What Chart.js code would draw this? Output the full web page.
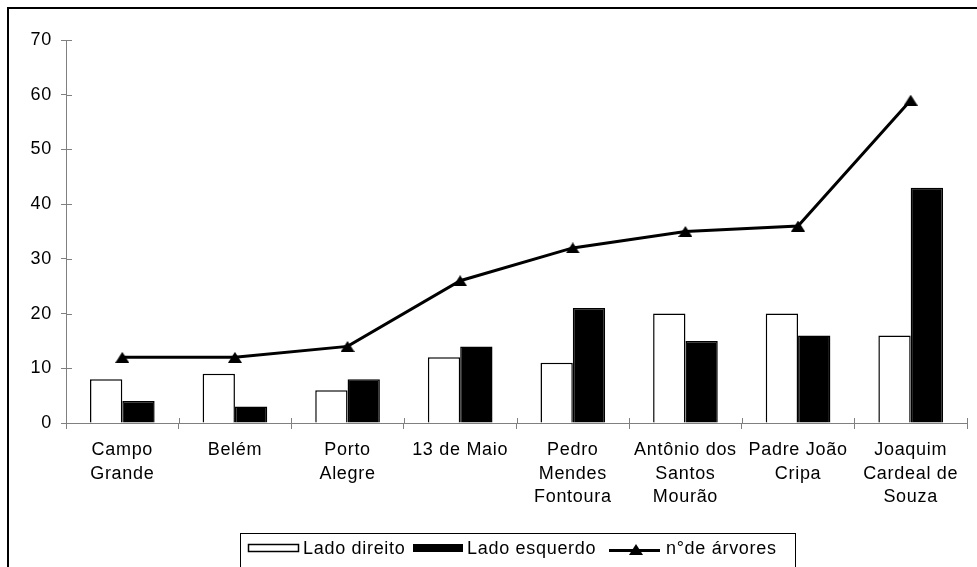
<!DOCTYPE html>
<html>
<head>
<meta charset="utf-8">
<script src="https://cdn.jsdelivr.net/npm/chart.js@4/dist/chart.umd.min.js"></script>
<style>
  html, body { margin: 0; padding: 0; background: #fff; }
  #wrap { width: 977px; height: 567px; position: relative; }
</style>
</head>
<body>
<div id="wrap"><canvas id="c" width="977" height="567"></canvas></div>
<script>
const categories = [
  ["Campo", "Grande"],
  ["Belém"],
  ["Porto", "Alegre"],
  ["13 de Maio"],
  ["Pedro", "Mendes", "Fontoura"],
  ["Antônio dos", "Santos", "Mourão"],
  ["Padre João", "Cripa"],
  ["Joaquim", "Cardeal de", "Souza"]
];
const ladoDireito  = [8, 9, 6, 12, 11, 20, 20, 16];
const ladoEsquerdo = [4, 3, 8, 14, 21, 15, 16, 43];
const nArvores     = [12, 12, 14, 26, 32, 35, 36, 59];
const seriesNames  = ["Lado direito", "Lado esquerdo", "n°de árvores"];
const yTicks       = [0, 10, 20, 30, 40, 50, 60, 70];

const FONT = "'Liberation Sans', Arial, sans-serif";
const AXIS = '#808080';
const SPACING = '0.7px';

// triangle marker image (centered)
const tri = document.createElement('canvas');
tri.width = 14; tri.height = 11;
(function(){
  const t = tri.getContext('2d');
  t.fillStyle = '#000';
  t.beginPath();
  t.moveTo(7, 0); t.lineTo(14, 11); t.lineTo(0, 11); t.closePath();
  t.fill();
})();

const framePlugin = {
  id: 'frame',
  beforeUpdate(chart) { chart.ctx.letterSpacing = SPACING; },
  beforeDraw(chart) {
    const ctx = chart.ctx;
    ctx.letterSpacing = SPACING;
    ctx.save();
    ctx.fillStyle = '#fff';
    ctx.fillRect(0, 0, chart.width, chart.height);
    ctx.strokeStyle = '#000';
    ctx.lineWidth = 2;
    ctx.strokeRect(8, 8, chart.width + 20, chart.height + 20);
    ctx.restore();
  },
  afterDraw(chart) {
    const ctx = chart.ctx;
    const xs = chart.scales.x, ys = chart.scales.y;
    ctx.save();
    ctx.strokeStyle = AXIS;
    ctx.lineWidth = 1;
    // inner halves of cross tick marks
    ctx.beginPath();
    for (let i = 0; i <= categories.length; i++) {
      const px = Math.round(xs.getPixelForValue(i - 0.5)) + 0.5;
      ctx.moveTo(px, ys.bottom);
      ctx.lineTo(px, ys.bottom - 5);
    }
    yTicks.forEach(v => {
      const py = Math.round(ys.getPixelForValue(v)) + 0.5;
      ctx.moveTo(xs.left, py);
      ctx.lineTo(xs.left + 6, py);
    });
    ctx.stroke();

    // legend
    const ds = chart.data.datasets;
    const dR = ds.find(d => d.label === seriesNames[0]);
    const dL = ds.find(d => d.label === seriesNames[1]);
    const dN = ds.find(d => d.label === seriesNames[2]);
    ctx.strokeStyle = '#000';
    ctx.lineWidth = 1;
    ctx.strokeRect(240.5, 533.5, 555, 60);
    ctx.font = '18px ' + FONT;
    ctx.letterSpacing = SPACING;
    ctx.textBaseline = 'middle';
    ctx.textAlign = 'left';
    // item 1
    ctx.fillStyle = dR.backgroundColor;
    ctx.fillRect(248, 544, 50, 7);
    ctx.lineWidth = 1.5;
    ctx.strokeStyle = dR.borderColor;
    ctx.strokeRect(248.5, 544.5, 50, 7);
    ctx.fillStyle = '#000';
    ctx.fillText(dR.label, 303, 549);
    // item 2
    ctx.fillStyle = dL.backgroundColor;
    ctx.fillRect(413, 544, 50, 8);
    ctx.fillStyle = '#000';
    ctx.fillText(dL.label, 467, 549);
    // item 3
    ctx.strokeStyle = dN.borderColor;
    ctx.lineWidth = 3;
    ctx.beginPath();
    ctx.moveTo(609, 550.5); ctx.lineTo(660, 550.5);
    ctx.stroke();
    ctx.drawImage(tri, 636 - 7, 550 - 6);
    ctx.fillStyle = '#000';
    ctx.fillText(dN.label, 666, 549);
    ctx.restore();
  }
};

new Chart(document.getElementById('c'), {
  data: {
    labels: categories,
    datasets: [
      {
        type: 'bar',
        label: seriesNames[0],
        data: ladoDireito,
        backgroundColor: '#fff',
        borderColor: '#000',
        borderWidth: 1.5,
        order: 1
      },
      {
        type: 'bar',
        label: seriesNames[1],
        data: ladoEsquerdo,
        backgroundColor: '#000',
        borderColor: '#000',
        borderWidth: 1.5,
        order: 1
      },
      {
        type: 'line',
        label: seriesNames[2],
        data: nArvores,
        borderColor: '#000',
        borderWidth: 3,
        pointStyle: tri,
        pointRadius: 7,
        fill: false,
        tension: 0,
        order: 0
      }
    ]
  },
  options: {
    responsive: false,
    animation: false,
    devicePixelRatio: 1,
    layout: { padding: { left: 10, right: 5, top: 40, bottom: 33 } },
    datasets: { bar: { barPercentage: 1.0, categoryPercentage: 0.574 } },
    plugins: {
      legend: { display: false },
      tooltip: { enabled: false },
      title: { display: false }
    },
    scales: {
      x: {
        type: 'category',
        offset: true,
        grid: { display: true, offset: true, drawOnChartArea: false, tickLength: 6, color: AXIS, lineWidth: 1 },
        border: { display: true, color: AXIS, width: 1 },
        ticks: {
          color: '#000',
          font: { family: FONT, size: 18, lineHeight: 1.28 },
          padding: 10,
          maxRotation: 0,
          autoSkip: false
        },
        afterFit(s) { s.height = 111; }
      },
      y: {
        min: 0, max: 70,
        afterBuildTicks(s) { s.ticks = yTicks.map(v => ({ value: v })); },
        grid: { display: true, drawOnChartArea: false, tickLength: 5, color: AXIS, lineWidth: 1 },
        border: { display: true, color: AXIS, width: 1 },
        ticks: {
          color: '#000',
          font: { family: FONT, size: 18 },
          padding: 9
        },
        afterFit(s) { s.width = 56; }
      }
    }
  },
  plugins: [framePlugin]
});
</script>
</body>
</html>
